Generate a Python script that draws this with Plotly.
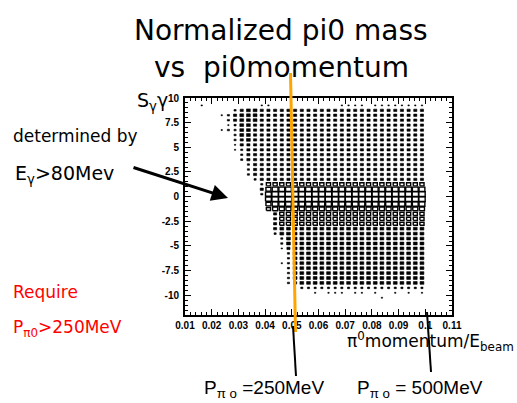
import plotly.graph_objects as go

# ---- data: 2D histogram (box plot) of S_gg vs pi0 momentum / E_beam ----
# x bin centres (bin width 0.0025), index k = 0..35
x_centers = [0.01125, 0.01375, 0.01625, 0.01875, 0.02125, 0.02375, 0.02625, 0.02875,
             0.03125, 0.03375, 0.03625, 0.03875, 0.04125, 0.04375, 0.04625, 0.04875,
             0.05125, 0.05375, 0.05625, 0.05875, 0.06125, 0.06375, 0.06625, 0.06875,
             0.07125, 0.07375, 0.07625, 0.07875, 0.08125, 0.08375, 0.08625, 0.08875,
             0.09125, 0.09375, 0.09625, 0.09875]
x_bin_width = 0.0025
# y bin centres (bin width 0.5)
y_centers = [9.25, 8.75, 8.25, 7.75, 7.25, 6.75, 6.25, 5.75, 5.25, 4.75,
             4.25, 3.75, 3.25, 2.75, 2.25, 1.75, 1.25, 0.75, 0.25, -0.25,
             -0.75, -1.25, -1.75, -2.25, -2.75, -3.25, -3.75, -4.25, -4.75, -5.25,
             -5.75, -6.25, -6.75, -7.25, -7.75, -8.25, -8.75, -9.25, -9.75, -10.25]
y_bin_width = 0.5
# bin content level per (row, column): 0 empty, 1-4 small (drawn solid), A-D large (drawn open)
bin_levels = [
    "001000000001 100000000001 111011111111",
    "000000023443 333333333333 333333333333",
    "000001234443 333333333333 333333333333",
    "000000234443 333333333333 333333333333",
    "000000124433 333333333333 333333333333",
    "000001224433 333333333333 333333333333",
    "000000024433 333333333333 333333333333",
    "000000023433 333333333333 333333333333",
    "000000013333 333333333333 333333333333",
    "000000012333 333333333333 333333333333",
    "000000002333 333333333333 333333333333",
    "000000002333 333333333333 333333333333",
    "000000000233 333333333333 333333333333",
    "000000000233 333333333333 333333333333",
    "000000000233 333333333333 333333333333",
    "000000000023 333333333333 333333333333",
    "000000000002 AAAAAAAAAAAA AAAAAAAAAAAA",
    "000000000003 BCCCCCCCCCCC CCCCCCCCCCCC",
    "000000000002 CDDDDDDDDDDD DDDDDDDDDDDD",
    "000000000000 CDDDDDDDDDDD DDDDDDDDDDDD",
    "000000000000 BCCCCCCCCCCC CCCCCCCCCCCC",
    "000000000000 ABBBBBBBBBBB BBBBBBBBBBBB",
    "000000000000 03AAAAAAAAAA AAAAAAAAAAAA",
    "000000000000 03AAAAAAAAAA AAAAAAAAAAAA",
    "000000000000 03AAAAAAAAAA AAAAAAAAAAAA",
    "000000000000 034444444444 444444444444",
    "000000000000 024444444444 444444444444",
    "000000000000 002444444444 444444444444",
    "000000000000 002444444444 444444444444",
    "000000000000 001344444444 444444444444",
    "000000000000 000244444444 444444444444",
    "000000000000 000244444444 444444444444",
    "000000000000 001244444444 444444444444",
    "000000000000 000244444444 444444444444",
    "000000000000 000244444444 444444444444",
    "000000000000 000244444444 444444444444",
    "000000000000 000234444444 444444444444",
    "000000000000 000002222222 222222222222",
    "000000000000 000000010111 011010010101",
    "000000000000 000000000000 000001000000",
]
level_fraction = {"1": 0.2, "2": 0.32, "3": 0.47, "4": 0.57,
                  "A": 0.62, "B": 0.75, "C": 0.87, "D": 0.96}
open_levels = "ABCD"

x_ticks = [0.01, 0.02, 0.03, 0.04, 0.05, 0.06, 0.07, 0.08, 0.09, 0.10, 0.11]
x_tick_text = ["0.01", "0.02", "0.03", "0.04", "0.05", "0.06", "0.07", "0.08", "0.09", "0.1", "0.11"]
y_ticks = [10, 7.5, 5, 2.5, 0, -2.5, -5, -7.5, -10]
y_tick_text = ["10", "7.5", "5", "2.5", "0", "-2.5", "-5", "-7.5", "-10"]

# ---- build box outlines from the bins ----
solid_x, solid_y, open_x, open_y = [], [], [], []
for r, row in enumerate(bin_levels):
    cells = row.replace(" ", "")
    for k, ch in enumerate(cells):
        if ch == "0":
            continue
        f = level_fraction[ch]
        hx = 0.5 * x_bin_width * f
        hy = 0.5 * y_bin_width * f
        xc, yc = x_centers[k], y_centers[r]
        xs = [xc - hx, xc + hx, xc + hx, xc - hx, xc - hx, None]
        ys = [yc - hy, yc - hy, yc + hy, yc + hy, yc - hy, None]
        if ch in open_levels:
            open_x += xs
            open_y += ys
        else:
            solid_x += xs
            solid_y += ys

fig = go.Figure()
fig.add_trace(go.Scatter(x=solid_x, y=solid_y, mode="lines", fill="toself",
                         fillcolor="black", line=dict(color="black", width=0.6),
                         hoverinfo="skip"))
fig.add_trace(go.Scatter(x=open_x, y=open_y, mode="lines", fill="toself",
                         fillcolor="white", line=dict(color="black", width=1.4),
                         hoverinfo="skip"))

L, R, T, B = 185, 65, 98, 88
W, H = 517, 403
PW, PH = W - L - R, H - T - B


def px(xp):
    return (xp - L) / PW


def py(yp):
    return (H - B - yp) / PH


tickfont = dict(family="Liberation Sans", size=10, color="black", weight="bold")
axis_common = dict(showgrid=False, zeroline=False, showline=True, linewidth=2,
                   linecolor="black", mirror="ticks", ticks="inside", ticklen=6,
                   tickwidth=1, tickcolor="black", tickfont=tickfont)
fig.update_xaxes(range=[0.01, 0.11], tickvals=x_ticks, ticktext=x_tick_text,
                 minor=dict(ticks="inside", ticklen=3, dtick=0.002, tickcolor="black"),
                 ticklabelstandoff=0, **axis_common)
fig.update_yaxes(range=[-12, 10], tickvals=y_ticks, ticktext=y_tick_text,
                 minor=dict(ticks="inside", ticklen=3, dtick=0.5, tickcolor="black"),
                 ticklabelstandoff=2, **axis_common)

comic = "DejaVu Sans"
ann = []


def text(s, xp, yp, size, color="black", xanchor="left", family=comic):
    ann.append(dict(text=s, x=px(xp), y=py(yp), xref="paper", yref="paper",
                    xanchor=xanchor, yanchor="middle", showarrow=False,
                    font=dict(family=family, size=size, color=color)))


text("Normalized pi0 mass", 281, 31, 28, xanchor="center")
text("vs\u00a0 pi0momentum", 281, 67, 28, xanchor="center")
text("S<sub>\u03b3</sub>\u03b3", 135, 101, 19)
text("determined by", 11, 136, 17)
text("E<sub>\u03b3</sub>>80Mev", 13, 174, 19)
text("Require", 11, 292, 17, color="red")
text("P<sub>\u03c00</sub>>250MeV", 11, 328, 17, color="red")
text("\u03c0<sup>0</sup>momentum/E<sub>beam</sub>", 345, 341, 17)
text("P<sub>\u03c0 o</sub> =250MeV", 202, 389, 19, family="Liberation Sans")
text("P<sub>\u03c0 o</sub> = 500MeV", 355, 389, 19, family="Liberation Sans")

# arrow from the label to the left edge of the band
ann.append(dict(text="", x=px(228), y=py(198), xref="paper", yref="paper",
                ax=-96, ay=-31, showarrow=True, arrowhead=2, arrowsize=1.1,
                arrowwidth=3, arrowcolor="black"))

shapes = [
    dict(type="line", xref="paper", yref="paper", x0=px(290.5), y0=py(73),
         x1=px(295.5), y1=py(332), line=dict(color="#FFA500", width=3), layer="above"),
    dict(type="line", xref="paper", yref="paper", x0=px(293), y0=py(326),
         x1=px(296), y1=py(376), line=dict(color="black", width=2), layer="above"),
    dict(type="line", xref="paper", yref="paper", x0=px(427), y0=py(312),
         x1=px(431), y1=py(372), line=dict(color="black", width=2), layer="above"),
]

fig.update_layout(width=W, height=H, margin=dict(l=L, r=R, t=T, b=B),
                  paper_bgcolor="white", plot_bgcolor="white", showlegend=False,
                  annotations=ann, shapes=shapes)

fig.write_html("out.html")
